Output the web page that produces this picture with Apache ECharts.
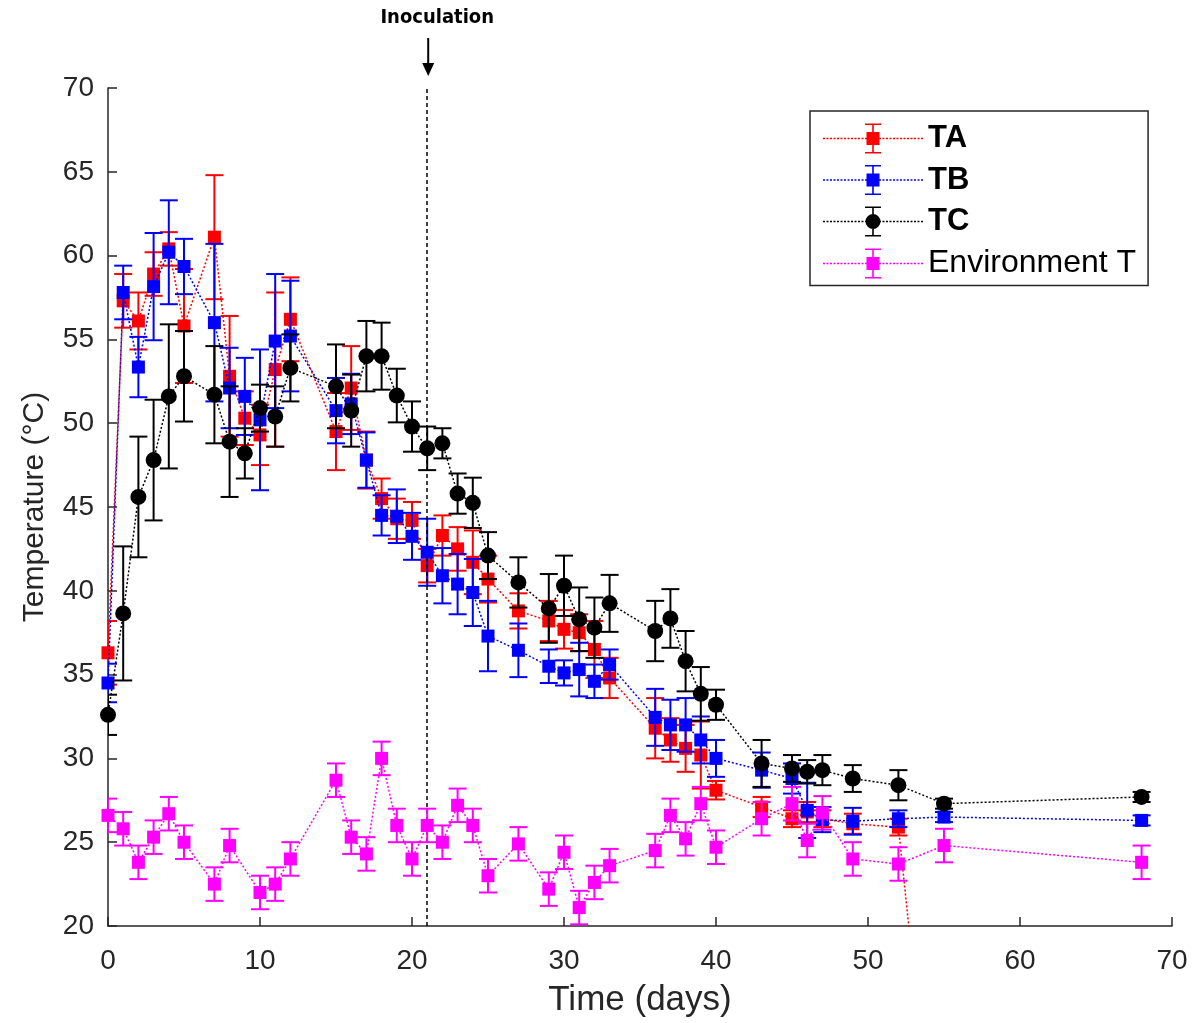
<!DOCTYPE html>
<html><head><meta charset="utf-8">
<script src="https://cdn.jsdelivr.net/npm/echarts@6/dist/echarts.min.js"></script>
<style>html,body{margin:0;padding:0;background:#fff}#c{width:1195px;height:1023px}</style>
</head><body><div id="c"></div>
<script>
// ---------- data ----------
const daysTA = [0,1,2,3,4,5,7,8,9,10,11,12,15,16,17,18,19,20,21,22,23,24,25,27,29,30,31,32,33,36,37,38,39,40,43,45,46,47,49,52,55];
const valTA  = [36.3,57.3,56.1,58.9,60.4,55.8,61.1,52.8,50.3,49.3,53.2,56.2,49.5,52.1,47.8,45.5,44.3,44.2,41.5,43.3,42.5,41.7,40.7,38.8,38.2,37.7,37.5,36.5,34.8,31.8,31.1,30.6,30.2,28.1,27.1,26.4,26.8,26.4,26.1,25.9,0];
const errTA  = [1.9,1.6,1.7,1.3,1.0,3.4,3.7,3.6,1.6,1.8,4.6,2.5,2.3,2.5,1.7,1.2,1.2,1.1,1.0,1.2,1.3,1.9,1.4,1.05,1.2,1.15,1.1,1.7,1.2,1.8,1.3,1.4,2.0,0.55,0.6,0.5,0.6,0.5,0.6,0.5,0];

const daysTB = [0,1,2,3,4,5,7,8,9,10,11,12,15,16,17,18,19,20,21,22,23,24,25,27,29,30,31,32,33,36,37,38,39,40,43,45,46,47,49,52,55,68];
const valTB  = [34.5,57.8,53.35,58.15,60.2,59.35,56.0,52.1,51.6,50.2,54.9,55.2,50.75,51.15,47.8,44.5,44.45,43.25,42.3,40.9,40.4,39.9,37.3,36.45,35.5,35.1,35.3,34.6,35.6,32.45,32.0,32.0,31.1,30.0,29.3,28.8,26.9,26.35,26.25,26.4,26.5,26.3];
const errTB  = [1.15,1.6,1.8,3.2,3.1,1.65,4.7,2.4,2.3,4.2,4.0,3.3,1.95,1.8,1.65,1.2,1.6,1.4,2.0,1.65,1.8,2.0,2.1,1.6,1.0,0.75,1.6,1.0,0.9,1.7,1.5,1.6,1.4,1.1,1.05,0.9,1.65,0.75,0.8,0.5,0.3,0.3];

const daysTC = [0,1,2,3,4,5,7,8,9,10,11,12,15,16,17,18,19,20,21,22,23,24,25,27,29,30,31,32,33,36,37,38,39,40,43,45,46,47,49,52,55,68];
const valTC  = [32.6,38.65,45.6,47.8,51.6,52.8,51.7,48.9,48.2,50.9,50.4,53.3,52.2,50.75,54.0,54.0,51.65,49.8,48.5,48.8,45.8,45.25,42.1,40.5,38.95,40.3,38.3,37.8,39.25,37.6,38.35,35.8,33.85,33.2,29.7,29.4,29.2,29.3,28.8,28.4,27.3,27.7];
const errTC  = [1.2,4.0,3.6,3.6,4.3,2.7,2.9,3.3,1.5,1.4,1.8,2.0,2.5,2.15,2.1,2.0,1.6,1.5,1.3,0.9,1.2,1.5,1.4,1.5,2.05,1.8,1.9,1.8,1.7,1.8,1.75,1.8,1.6,0.9,1.4,0.8,0.7,0.9,0.8,0.9,0.3,0.3];

const daysEnv = [0,1,2,3,4,5,7,8,10,11,12,15,16,17,18,19,20,21,22,23,24,25,27,29,30,31,32,33,36,37,38,39,40,43,45,46,47,49,52,55,68];
const valEnv  = [26.6,25.8,23.8,25.3,26.7,25.0,22.5,24.8,22.0,22.5,24.0,28.7,25.3,24.3,30.0,26.0,24.0,26.0,25.0,27.2,26.0,23.0,24.9,22.2,24.4,21.1,22.6,23.6,24.5,26.6,25.2,27.3,24.7,26.4,27.3,25.1,26.75,24.0,23.7,24.8,23.8];
const errEnv  = [1.0,1.0,1.0,1.0,1.0,1.0,1.0,1.0,1.0,1.0,1.0,1.0,1.0,1.0,1.0,1.0,1.0,1.0,1.0,1.0,1.0,1.0,1.0,1.0,1.0,1.0,1.0,1.0,1.0,1.0,1.0,1.0,1.0,1.0,1.0,1.0,1.0,1.0,1.0,1.0,1.0];

const inoculationDay = 21;
const xTicks = {min: 0, max: 70, interval: 10};
const yTicks = {min: 20, max: 70, interval: 5};

// ---------- helpers ----------
const FONT = "'Liberation Sans', Arial, sans-serif";
const AXIS = '#262626';

function errSeries(id, days, vals, errs, color, z) {
  return {
    type: 'custom', name: id, z: z, silent: true, clip: true,
    data: days.map((d, i) => [d, vals[i] - errs[i], vals[i] + errs[i]]),
    renderItem: (params, api) => {
      const lo = api.coord([api.value(0), api.value(1)]);
      const hi = api.coord([api.value(0), api.value(2)]);
      const hw = 9;
      const style = {stroke: color, lineWidth: 2, fill: null};
      return {type: 'group', children: [
        {type: 'line', shape: {x1: lo[0], y1: lo[1], x2: hi[0], y2: hi[1]}, style: style},
        {type: 'line', shape: {x1: lo[0] - hw, y1: lo[1], x2: lo[0] + hw, y2: lo[1]}, style: style},
        {type: 'line', shape: {x1: hi[0] - hw, y1: hi[1], x2: hi[0] + hw, y2: hi[1]}, style: style}
      ]};
    }
  };
}
function lineSeries(name, days, vals, color, symbol, size, z) {
  return {
    type: 'line', name: name, z: z, clip: true,
    data: days.map((d, i) => [d, vals[i]]),
    symbol: symbol, symbolSize: size, showAllSymbol: true,
    lineStyle: {color: color, width: 1.5, type: [2, 2]},
    itemStyle: {color: color},
    emphasis: {disabled: true}, animation: false
  };
}
function legendIcon(marker) {
  let p = '';
  for (let x = 0; x < 100; x += 3.5) {
    const x2 = Math.min(x + 2, 100);
    p += `M${x} 14.3L${x2} 14.3L${x2} 15.7L${x} 15.7Z`;
  }
  p += 'M98 14.3L100 14.3L100 15.7L98 15.7Z';
  p += 'M49.2 0L50.8 0L50.8 30L49.2 30Z';
  p += 'M42 0L58 0L58 1.6L42 1.6Z';
  p += 'M42 28.4L58 28.4L58 30L42 30Z';
  if (marker === 'circle') p += 'M42.5 15A7.5 7.5 0 1 1 57.5 15A7.5 7.5 0 1 1 42.5 15Z';
  else p += 'M43.5 8.5L56.5 8.5L56.5 21.5L43.5 21.5Z';
  return 'path://' + p;
}

const chart = echarts.init(document.getElementById('c'), null, {renderer: 'canvas'});
const option = {
  animation: false,
  backgroundColor: '#fff',
  grid: {left: 108, right: 23, top: 88, bottom: 97, containLabel: false},
  xAxis: {
    type: 'value', min: xTicks.min, max: xTicks.max, interval: xTicks.interval,
    name: 'Time (days)', nameLocation: 'middle', nameGap: 57,
    nameTextStyle: {fontSize: 35, color: AXIS, fontFamily: FONT},
    axisLine: {onZero: false, lineStyle: {color: AXIS, width: 1.5}},
    axisTick: {inside: true, length: 9, lineStyle: {color: AXIS, width: 1.5}},
    axisLabel: {fontSize: 28, color: AXIS, margin: 21, fontFamily: FONT},
    splitLine: {show: false}
  },
  yAxis: {
    type: 'value', min: yTicks.min, max: yTicks.max, interval: yTicks.interval,
    name: 'Temperature (°C)', nameLocation: 'middle', nameGap: 58,
    nameTextStyle: {fontSize: 30, color: AXIS, fontFamily: FONT},
    axisLine: {show: true, onZero: false, lineStyle: {color: AXIS, width: 1.5}},
    axisTick: {show: true, inside: true, length: 9, lineStyle: {color: AXIS, width: 1.5}},
    axisLabel: {fontSize: 28, color: AXIS, margin: 14, fontFamily: FONT},
    splitLine: {show: false}
  },
  legend: {
    orient: 'vertical', left: 810, top: 111,
    padding: [12, 12, 6, 13], itemGap: 10.5,
    itemWidth: 100, itemHeight: 30,
    borderColor: AXIS, borderWidth: 1.5, backgroundColor: '#fff',
    selectedMode: false,
    data: [
      {name: 'TA', icon: legendIcon('rect')},
      {name: 'TB', icon: legendIcon('rect')},
      {name: 'TC', icon: legendIcon('circle')},
      {name: 'Environment T', icon: legendIcon('rect')}
    ],
    formatter: n => n === 'Environment T' ? '{n|' + n + '}' : '{b|' + n + '}',
    textStyle: {
      fontSize: 32, color: '#000', fontFamily: FONT,
      rich: {
        b: {fontSize: 31, fontWeight: 'bold', color: '#000', fontFamily: FONT},
        n: {fontSize: 32, color: '#000', fontFamily: FONT}
      }
    }
  },
  series: [
    {type: 'line', name: '_inoc', data: [], z: 1, silent: true,
     markLine: {silent: true, symbol: 'none', label: {show: false}, animation: false,
       lineStyle: {color: '#000', width: 1.5, type: [4, 3]},
       data: [{xAxis: inoculationDay}]}},
    errSeries('TA_err', daysTA, valTA, errTA, '#ff0000', 2),
    lineSeries('TA', daysTA, valTA, '#ff0000', 'rect', 13, 3),
    errSeries('TB_err', daysTB, valTB, errTB, '#0000ff', 4),
    lineSeries('TB', daysTB, valTB, '#0000ff', 'rect', 13, 5),
    errSeries('TC_err', daysTC, valTC, errTC, '#000000', 6),
    lineSeries('TC', daysTC, valTC, '#000000', 'circle', 16, 7),
    errSeries('Env_err', daysEnv, valEnv, errEnv, '#ff00ff', 8),
    lineSeries('Environment T', daysEnv, valEnv, '#ff00ff', 'rect', 13, 9)
  ]
};
chart.setOption(option);

// Inoculation annotation positioned through the axis scales
const px = chart.convertToPixel({xAxisIndex: 0}, inoculationDay);
const pyTop = chart.convertToPixel({yAxisIndex: 0}, yTicks.max);
chart.setOption({
  graphic: [
    {type: 'text', x: px + 10, y: 18, style: {text: 'Inoculation', fill: '#000',
      font: "bold 20px 'Liberation Sans Narrow', 'DejaVu Sans Condensed', sans-serif",
      textAlign: 'center', textVerticalAlign: 'middle'}},
    {type: 'line', shape: {x1: px + 1, y1: pyTop - 50, x2: px + 1, y2: pyTop - 22},
      style: {stroke: '#000', lineWidth: 2}},
    {type: 'polygon', shape: {points: [[px - 5, pyTop - 25], [px + 7, pyTop - 25], [px + 1, pyTop - 12]]},
      style: {fill: '#000'}}
  ]
});
</script>
</body></html>
